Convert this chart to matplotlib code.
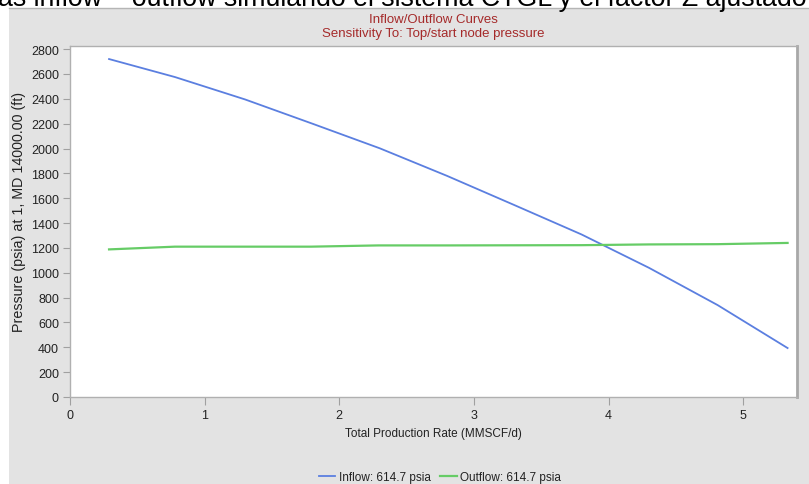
import matplotlib
matplotlib.use('Agg')
import matplotlib.pyplot as plt
from matplotlib.patches import Rectangle

# Data
inflow_rate = [0.29, 0.78, 1.30, 1.80, 2.30, 2.80, 3.30, 3.80, 4.30, 4.81, 5.33]
inflow_pressure = [2720, 2575, 2395, 2200, 2002, 1780, 1545, 1308, 1040, 740, 394]

outflow_rate = [0.29, 0.78, 1.30, 1.79, 2.29, 2.80, 3.30, 3.80, 4.30, 4.81, 5.33]
outflow_pressure = [1188, 1210, 1210, 1210, 1220, 1220, 1221, 1222, 1228, 1230, 1240]

x_ticks = [0, 1, 2, 3, 4, 5]
y_ticks = list(range(0, 2801, 200))

W, H = 809, 485
plt.rcParams['font.family'] = ['Liberation Sans', 'DejaVu Sans']

fig = plt.figure(figsize=(W / 100, H / 100), dpi=100)
fig.patch.set_facecolor('white')

# grey panel behind the chart
panel = Rectangle((9 / W, 0), 1 - 9 / W, 1 - 9 / H, transform=fig.transFigure,
                  facecolor='#e3e3e3', edgecolor='none', zorder=-10)
fig.patches.append(panel)
fig.add_artist(plt.Line2D([9 / W, 1], [1 - 9 / H, 1 - 9 / H], transform=fig.transFigure,
                          color='#b5b5b5', lw=1, zorder=-9))

# caption text cut off at the very top (as in the source screenshot)
fig.text(-2 / W, 1 - 6 / H, 'as inflow \u2013 outflow simulando el sistema CTGL y el factor Z ajustado',
         fontsize=19.3, color='black', ha='left', va='baseline')

ax = fig.add_axes([70 / W, (H - 398) / H, (797 - 70) / W, (398 - 47) / H])
ax.set_zorder(5)
ax.set_facecolor('white')

ax.plot(inflow_rate, inflow_pressure, color='#5b7fe0', lw=1.3, label='Inflow: 614.7 psia')
ax.plot(outflow_rate, outflow_pressure, color='#66cc66', lw=1.6, label='Outflow: 614.7 psia')

ax.set_xlim(0, 5.4)
ax.set_ylim(0, 2825)
ax.set_xticks(x_ticks)
ax.set_yticks(y_ticks)

for side in ['left', 'bottom', 'top']:
    ax.spines[side].set_color('#b0b0b0')
    ax.spines[side].set_linewidth(1)
ax.spines['right'].set_color('#a8a8a8')
ax.spines['right'].set_linewidth(2)

ax.tick_params(axis='y', length=5, color='#a0a0a0', labelsize=9, labelcolor='#222222', pad=3)
ax.tick_params(axis='x', length=6, color='#a0a0a0', labelsize=9, labelcolor='#222222', pad=3)

ax.set_ylabel('Pressure (psia) at 1, MD 14000.00 (ft)', fontsize=10.3, color='#222222')
ax.yaxis.set_label_coords(-0.06, 0.53)
ax.set_xlabel('Total Production Rate (MMSCF/d)', fontsize=8.5, color='#222222', labelpad=4)

ax.set_title('Inflow/Outflow Curves\nSensitivity To: Top/start node pressure',
             fontsize=9.5, color='#a52a2a', linespacing=1.3, pad=7)

leg = fig.legend(loc='center', bbox_to_anchor=(440 / W, 1 - 478 / H), ncol=2,
                 frameon=False, handlelength=1.4, handletextpad=0.3, columnspacing=0.8,
                 prop={'size': 8.5})
for t in leg.get_texts():
    t.set_color('#222222')

fig.savefig('out.png', dpi=100)
